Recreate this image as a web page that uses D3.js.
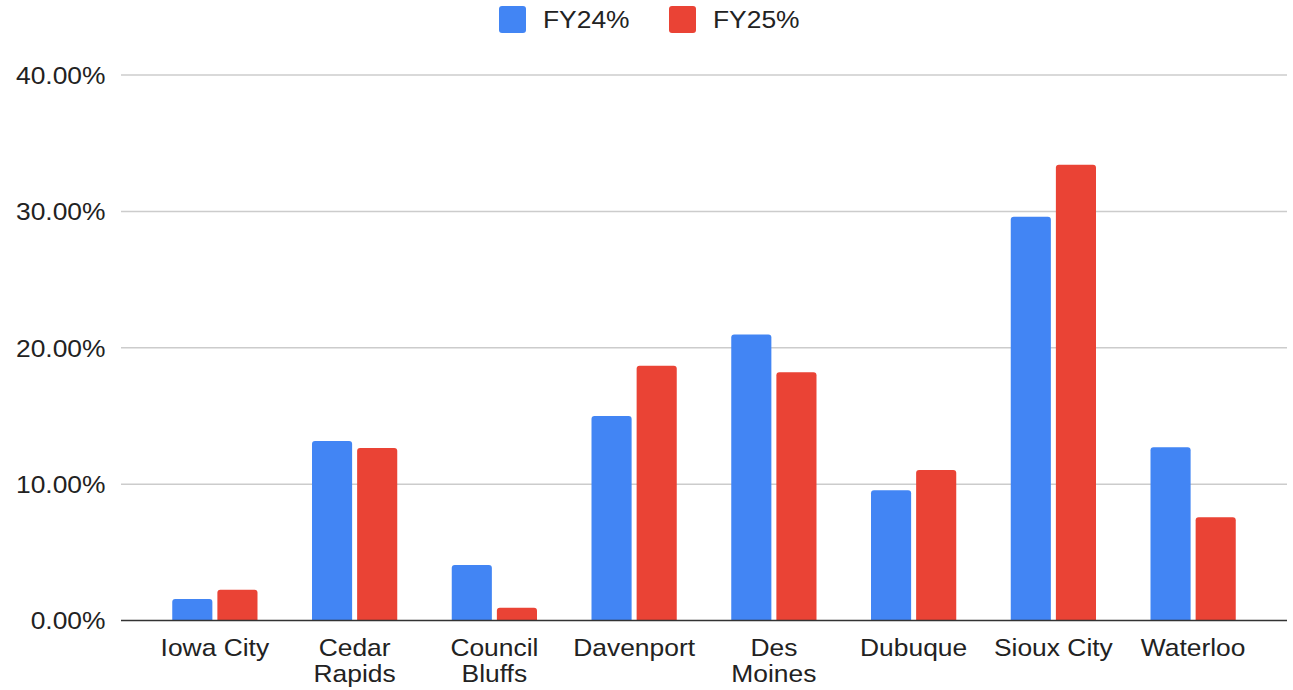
<!DOCTYPE html>
<html>
<head>
<meta charset="utf-8">
<script src="https://cdn.jsdelivr.net/npm/d3@7"></script>
<style>
  body { margin: 0; background: #fff; }
  text { font-family: "Liberation Sans", Arial, sans-serif; fill: #222; }
</style>
</head>
<body>
<svg id="chart" width="1293" height="690"></svg>
<script>
var cities = ["Iowa City", "Cedar Rapids", "Council Bluffs", "Davenport", "Des Moines", "Dubuque", "Sioux City", "Waterloo"];
var cityLabels = [["Iowa City"], ["Cedar", "Rapids"], ["Council", "Bluffs"], ["Davenport"], ["Des", "Moines"], ["Dubuque"], ["Sioux City"], ["Waterloo"]];
var seriesNames = ["FY24%", "FY25%"];
var fy24 = [1.58, 13.16, 4.07, 15.0, 20.98, 9.55, 29.6, 12.7];
var fy25 = [2.26, 12.65, 0.94, 18.68, 18.2, 11.03, 33.42, 7.57];
var yTicks = [0, 10, 20, 30, 40];

var svg = d3.select("#chart"),
    stretch = 1.1;

var x0 = d3.scaleBand().domain(cities).range([145, 1263]).paddingInner(0.39).paddingOuter(0.195),
    x1 = d3.scaleBand().domain(seriesNames).range([0, x0.bandwidth()]).paddingInner(0.111),
    y = d3.scaleLinear().domain([0, 40]).range([620.5, 75]),
    z = d3.scaleOrdinal().domain(seriesNames).range(["#4285f4", "#ea4335"]);

var gridLeft = 121, gridRight = 1287;

// gridlines
svg.append("g")
    .selectAll("line")
    .data(yTicks.slice(1))
    .enter().append("line")
    .attr("x1", gridLeft).attr("x2", gridRight)
    .attr("y1", function(d) { return y(d); })
    .attr("y2", function(d) { return y(d); })
    .attr("stroke", "#cccccc")
    .attr("stroke-width", 1.5);

// y axis labels
var yAxis = svg.append("g")
    .attr("transform", "translate(" + gridLeft + ",0)")
    .call(d3.axisLeft(y).tickValues(yTicks).tickSize(0).tickFormat(function(d) { return d.toFixed(2) + "%"; }));
yAxis.select(".domain").remove();
yAxis.selectAll("text")
    .attr("x", -15.5 / stretch)
    .attr("dy", "0.35em")
    .attr("transform", "scale(" + stretch + ",1)")
    .style("font-size", "24px")
    .style("font-family", "'Liberation Sans', Arial, sans-serif")
    .attr("fill", "#222");

function topRounded(x, yTop, w, h, r) {
    r = Math.min(r, h, w / 2);
    return "M" + x + "," + (yTop + h) +
        "V" + (yTop + r) +
        "Q" + x + "," + yTop + " " + (x + r) + "," + yTop +
        "H" + (x + w - r) +
        "Q" + (x + w) + "," + yTop + " " + (x + w) + "," + (yTop + r) +
        "V" + (yTop + h) + "Z";
}

var rows = cities.map(function(c, i) {
    return {city: c, values: [{key: seriesNames[0], value: fy24[i]}, {key: seriesNames[1], value: fy25[i]}]};
});

svg.append("g")
    .selectAll("g")
    .data(rows)
    .enter().append("g")
    .attr("transform", function(d) { return "translate(" + x0(d.city) + ",0)"; })
    .selectAll("path")
    .data(function(d) { return d.values; })
    .enter().append("path")
    .attr("fill", function(d) { return z(d.key); })
    .attr("d", function(d) {
        return topRounded(x1(d.key), y(d.value), x1.bandwidth(), y(0) - y(d.value), 3);
    });

// baseline
svg.append("line")
    .attr("x1", gridLeft).attr("x2", gridRight)
    .attr("y1", y(0)).attr("y2", y(0))
    .attr("stroke", "#333333")
    .attr("stroke-width", 1.5);

// x axis labels
var xAxis = svg.append("g")
    .attr("transform", "translate(0," + y(0) + ")")
    .call(d3.axisBottom(x0).tickSize(0));
xAxis.select(".domain").remove();
xAxis.selectAll(".tick text").each(function(d, i) {
    var t = d3.select(this).text(null)
        .attr("y", 0).attr("dy", null)
        .attr("transform", "scale(" + stretch + ",1)")
        .style("font-size", "24px")
        .style("font-family", "'Liberation Sans', Arial, sans-serif")
        .attr("fill", "#222");
    cityLabels[i].forEach(function(line, j) {
        t.append("tspan").attr("x", 0).attr("y", 36 + j * 26).text(line);
    });
});

// legend
var legendX = [499, 669];
var legend = svg.append("g")
    .selectAll("g")
    .data(seriesNames)
    .enter().append("g")
    .attr("transform", function(d, i) { return "translate(" + legendX[i] + ",6)"; });
legend.append("rect")
    .attr("width", 27).attr("height", 27).attr("rx", 3)
    .attr("fill", function(d) { return z(d); });
legend.append("text")
    .attr("transform", "translate(44,22) scale(" + stretch + ",1)")
    .style("font-size", "24px")
    .text(function(d) { return d; });
</script>
</body>
</html>
